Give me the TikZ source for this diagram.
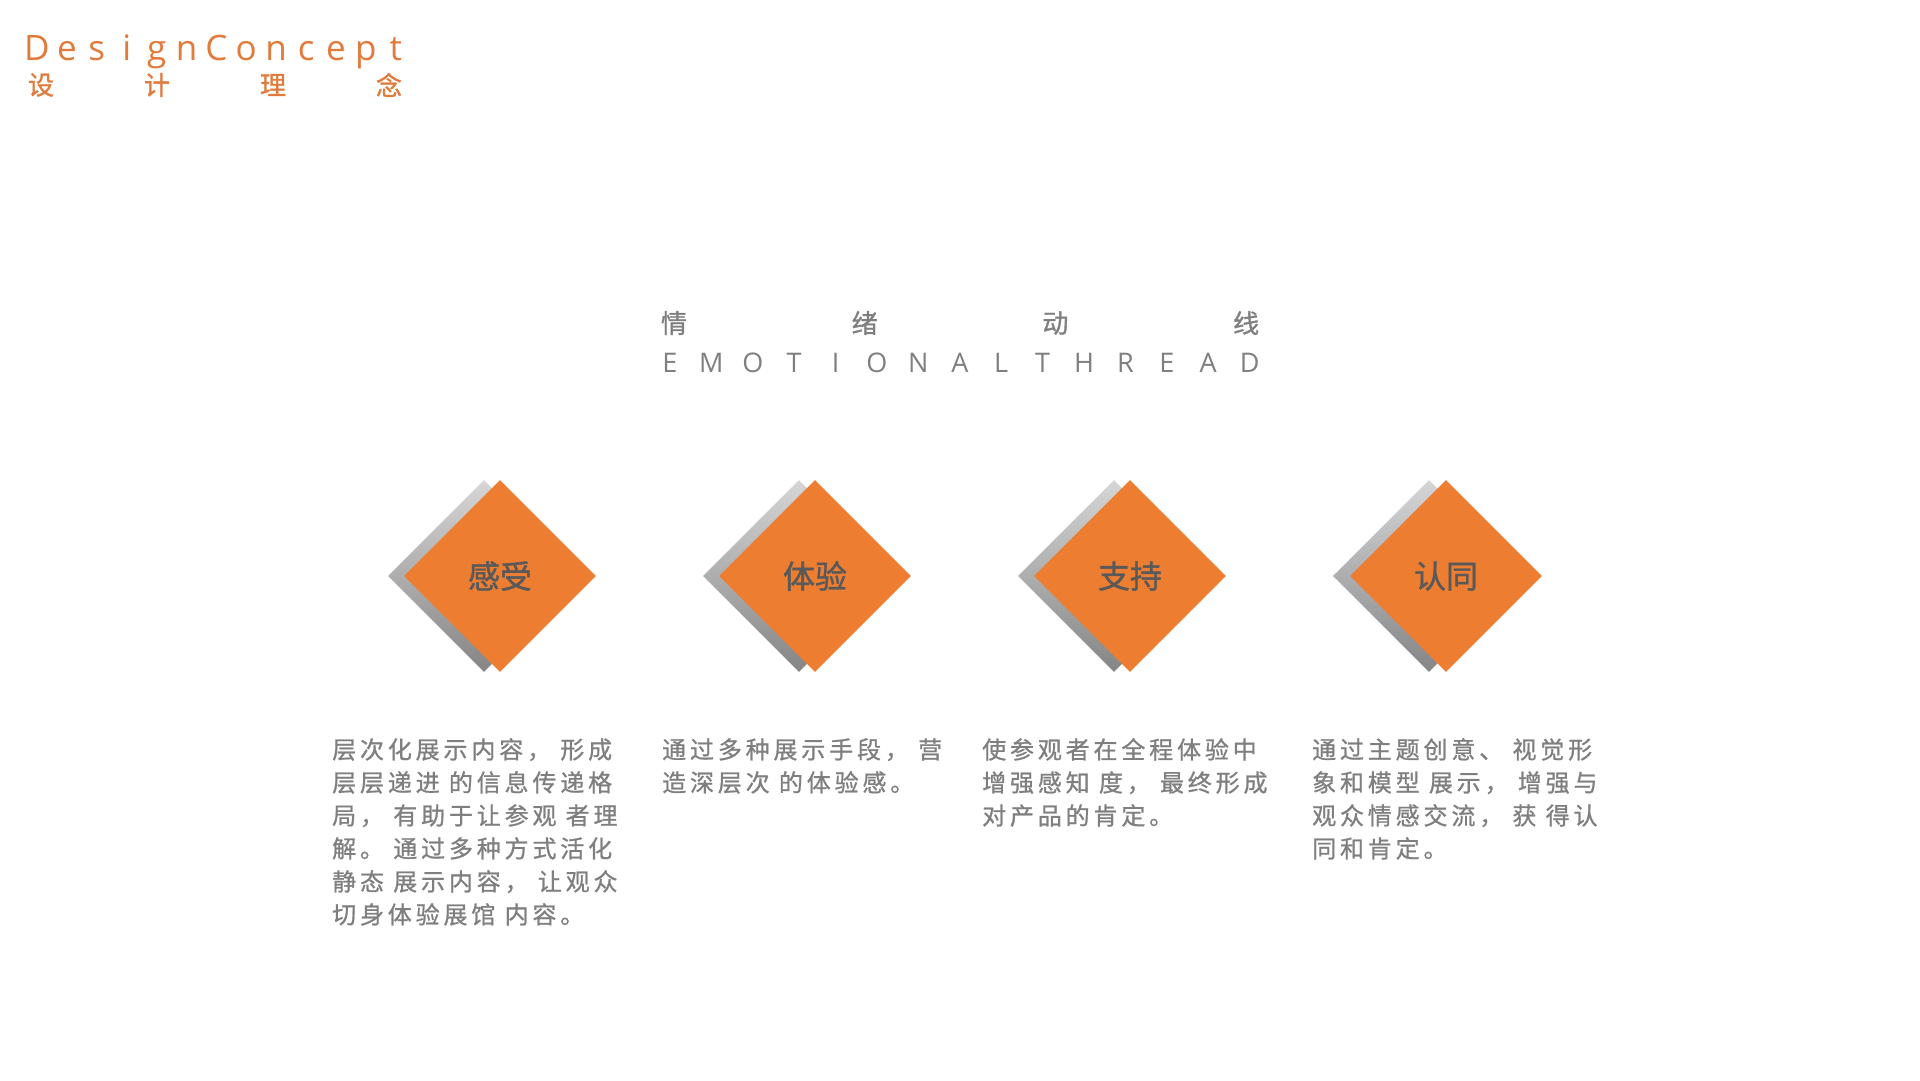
\documentclass[tikz,border=0pt]{standalone}
\usepackage{fontspec}
\setmainfont{Open Sans}
\newfontfamily\cjk{Noto Sans CJK SC}
\newfontfamily\cjkbold[FakeBold=1.2]{Noto Sans CJK SC}
\newfontfamily\cjkb[LetterSpace=16,FakeBold=0.9]{Noto Sans CJK SC}
\usetikzlibrary{shapes.geometric}
\definecolor{orangeA}{HTML}{ED7D31}
\definecolor{orangeT}{HTML}{E07B3C}
\definecolor{greyT}{HTML}{7F7F7F}
\definecolor{greyD}{HTML}{595959}
\definecolor{greyTop}{HTML}{D6D6D6}
\definecolor{greyBot}{HTML}{858585}
\tikzset{
  orangedia/.style={diamond, aspect=1, minimum width=192pt, minimum height=192pt, inner sep=0pt, fill=orangeA},
  graydia/.style={diamond, aspect=1, minimum width=192pt, minimum height=192pt, inner sep=0pt, top color=greyTop, bottom color=greyBot, draw=none},
  dialabel/.style={inner sep=0pt, text=greyD, font={\cjkbold\fontsize{32}{36}\selectfont}},
  bodytext/.style={anchor=north west, inner sep=0pt, align=left, text=greyT, font={\cjkb\fontsize{24}{33}\selectfont}},
  headlat/.style={anchor=base, inner sep=0pt, text=orangeT, font={\fontsize{35}{40}\selectfont}},
  headcjk/.style={inner sep=0pt, text=orangeT, font={\cjkbold\fontsize{26}{30}\selectfont}},
  titlecjk/.style={inner sep=0pt, text=greyT, font={\cjkbold\fontsize{26}{30}\selectfont}},
  titlelat/.style={anchor=base, inner sep=0pt, text=greyT, font={\fontsize{27}{30}\selectfont}}
}
\begin{document}
\begin{tikzpicture}[x=1pt,y=-1pt]
\fill[white] (0,0) rectangle (1920,1080);
\useasboundingbox (0,0) rectangle (1920,1080);

% header
\foreach \ch [count=\i from 0] in {D,e,s,i,g,n,C,o,n,c,e,p,t}
  \node[headlat] (h\i) at ({37+29.9*\i},60) {\ch};
\foreach \ch [count=\i from 0] in {设,计,理,念}
  \node[headcjk] (hc\i) at ({41+116*\i},85) {\ch};

% title
\foreach \ch [count=\i from 0] in {情,绪,动,线}
  \node[titlecjk] (t\i) at ({674+190.7*\i},323) {\ch};
\foreach \ch [count=\i from 0] in {E,M,O,T,I,O,N,A,L,T,H,R,E,A,D}
  \node[titlelat] (e\i) at ({670+41.4*\i},372) {\ch};

% diamonds
\node[graydia] (g1) at (484,576) {};
\node[orangedia] (d1) at (500,576) {};
\node[dialabel] (l1) at (d1.center) {感受};
\node[graydia] (g2) at (799,576) {};
\node[orangedia] (d2) at (815,576) {};
\node[dialabel] (l2) at (d2.center) {体验};
\node[graydia] (g3) at (1114,576) {};
\node[orangedia] (d3) at (1130,576) {};
\node[dialabel] (l3) at (d3.center) {支持};
\node[graydia] (g4) at (1429,576) {};
\node[orangedia] (d4) at (1446,576) {};
\node[dialabel] (l4) at (d4.center) {认同};

% body text
\node[bodytext] (b1) at (332,738) {层次化展示内容， 形成\\层层递进 的信息传递格\\局， 有助于让参观 者理\\解。 通过多种方式活化\\静态 展示内容， 让观众\\切身体验展馆 内容。};
\node[bodytext] (b2) at (662,738) {通过多种展示手段， 营\\造深层次 的体验感。};
\node[bodytext] (b3) at (982,738) {使参观者在全程体验中\\增强感知 度， 最终形成\\对产品的肯定。};
\node[bodytext] (b4) at (1312,738) {通过主题创意、 视觉形\\象和模型 展示， 增强与\\观众情感交流， 获 得认\\同和肯定。};
\end{tikzpicture}
\end{document}
